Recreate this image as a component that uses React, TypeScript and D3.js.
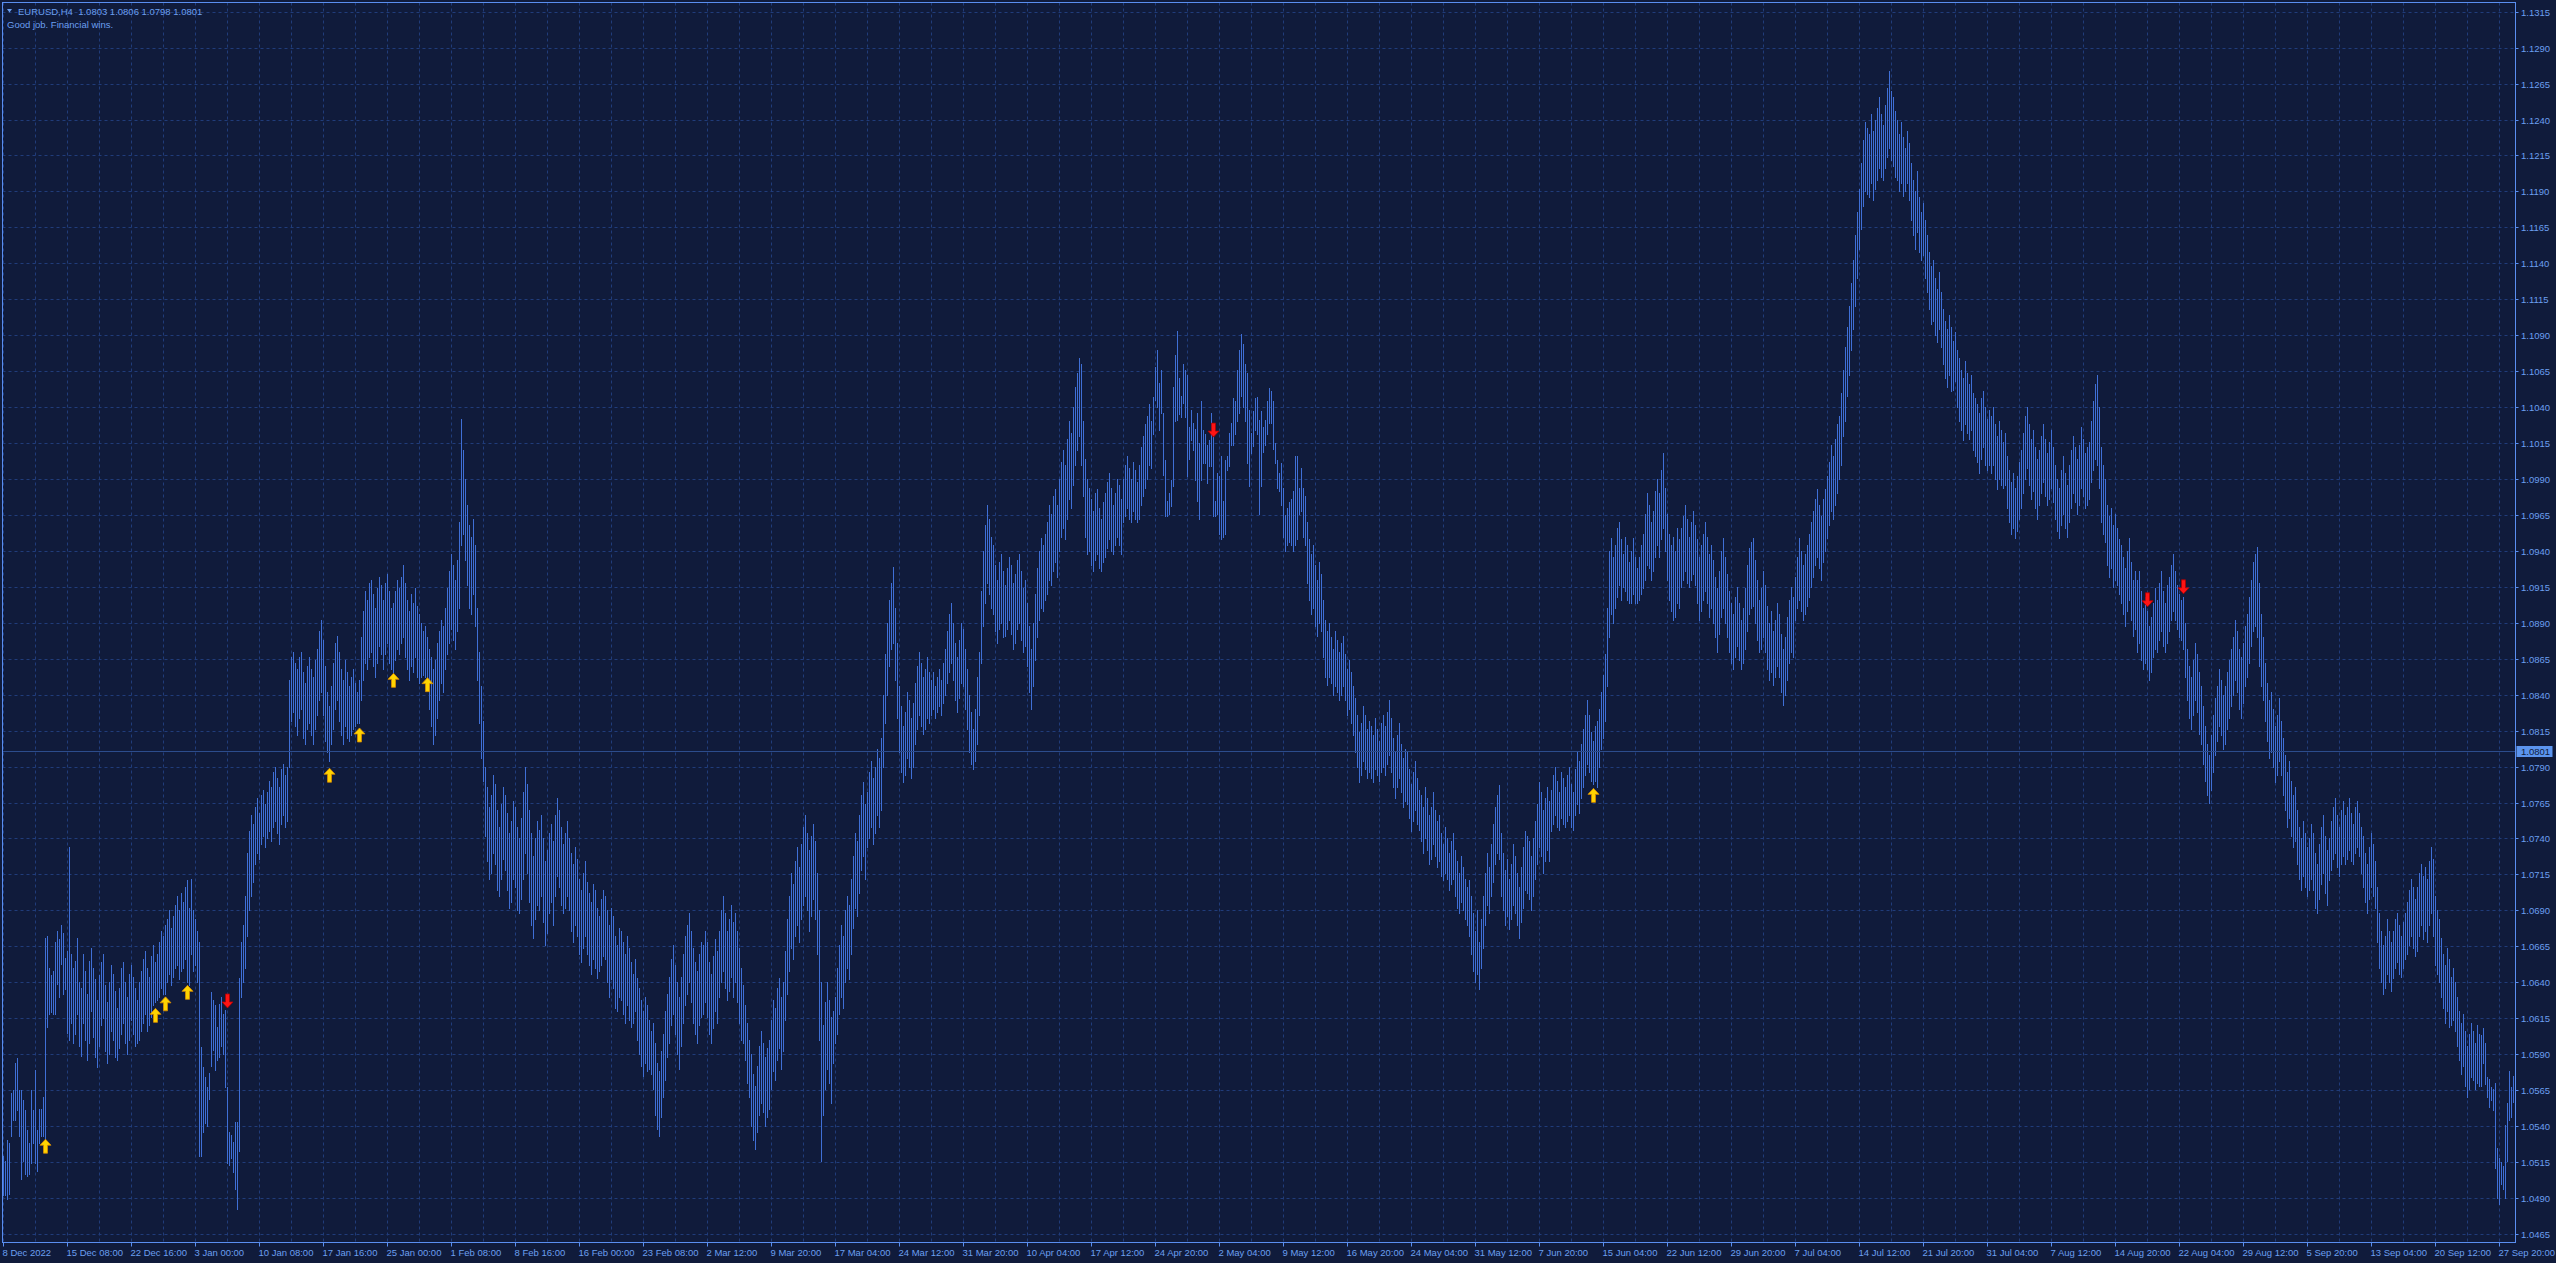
import React from "react";
import * as d3 from "d3";

const W = 2556;
const H = 1263;

// price ticks on the right axis
const priceTicks = [
  1.0465, 1.049, 1.0515, 1.054, 1.0565, 1.059, 1.0615, 1.064, 1.0665, 1.069, 1.0715, 1.074, 1.0765, 1.079,
  1.0815, 1.084, 1.0865, 1.089, 1.0915, 1.094, 1.0965, 1.099, 1.1015, 1.104, 1.1065, 1.109, 1.1115, 1.114,
  1.1165, 1.119, 1.1215, 1.124, 1.1265, 1.129, 1.1315,
];

const timeLabels = [
  "8 Dec 2022", "15 Dec 08:00", "22 Dec 16:00", "3 Jan 00:00", "10 Jan 08:00", "17 Jan 16:00", "25 Jan 00:00",
  "1 Feb 08:00", "8 Feb 16:00", "16 Feb 00:00", "23 Feb 08:00", "2 Mar 12:00", "9 Mar 20:00", "17 Mar 04:00",
  "24 Mar 12:00", "31 Mar 20:00", "10 Apr 04:00", "17 Apr 12:00", "24 Apr 20:00", "2 May 04:00", "9 May 12:00",
  "16 May 20:00", "24 May 04:00", "31 May 12:00", "7 Jun 20:00", "15 Jun 04:00", "22 Jun 12:00", "29 Jun 20:00",
  "7 Jul 04:00", "14 Jul 12:00", "21 Jul 20:00", "31 Jul 04:00", "7 Aug 12:00", "14 Aug 20:00", "22 Aug 04:00",
  "29 Aug 12:00", "5 Sep 20:00", "13 Sep 04:00", "20 Sep 12:00", "27 Sep 20:00",
];
const barsPerLabel = 32;
const barSlots = 1256;

// H4 bar highs, in pips above 1.0000
const barHigh = [
  519,516,530,528,563,565,584,587,565,565,558,551,537,528,565,551,579,537,552,552,560,671,
  672,650,645,648,668,676,670,680,674,657,662,734,660,650,
  655,671,640,636,660,648,632,655,664,
  650,642,628,645,654,660,638,626,640,652,646,634,622,636,650,654,640,630,646,652,644,636,628,640,
  648,656,662,650,644,658,666,654,660,
  668,676,672,680,684,690,678,686,694,700,690,702,696,706,711,692,
  712,690,684,676,668,595,581,574,567,577,633,628,624,609,625,630,618,621,567,536,534,529,543,543,643,668,680,700,730,745,756,750,
  762,768,758,770,774,764,772,780,776,786,790,782,776,788,792,784,790,
  850,866,870,862,858,866,870,856,848,860,
  866,858,852,864,872,884,892,878,860,842,832,846,862,
  876,881,870,858,850,864,856,846,852,858,848,842,850,
  880,898,912,906,918,920,910,900,914,922,916,906,918,924,912,900,904,
  912,920,914,922,930,918,906,898,910,904,914,902,896,890,884,888,880,
  872,866,858,864,876,884,892,888,
  900,914,926,938,930,920,934,960,1032,1010,
  990,972,958,950,962,944,
  900,870,846,822,
  790,776,762,770,784,778,760,748,764,776,770,
  758,744,752,766,762,748,740,754,
  772,790,778,760,744,728,740,752,
  746,756,740,724,732,744,750,738,
  756,768,760,748,736,744,752,740,
  730,722,734,726,712,704,716,724,
  710,702,696,708,704,692,686,698,704,
  700,690,680,692,686,672,666,678,
  676,668,660,672,664,654,646,656,
  643,636,628,620,630,624,614,606,
  612,598,584,578,592,604,620,632,
  644,656,666,652,640,630,644,660,
  672,680,688,676,664,654,648,660,668,
  666,676,668,654,646,658,670,662,
  676,690,700,688,676,684,694,682,
  688,676,664,650,638,624,612,600,
  590,576,568,582,596,606,598,588,594,
  600,614,628,622,636,643,630,640,
  662,684,700,716,708,724,734,720,
  736,748,756,744,732,742,750,738,
  716,690,640,610,626,640,628,616,620,
  630,650,666,680,672,690,700,694,
  712,728,744,738,756,770,779,764,
  772,786,794,782,790,802,796,810,
  840,868,890,906,918,929,900,876,
  846,832,818,828,842,836,824,834,
  848,860,870,862,852,858,866,856,
  850,856,846,852,858,850,862,872,
  884,896,904,890,876,866,878,890,
  886,872,858,840,828,816,830,852,
  870,912,940,958,972,962,950,944,
  930,920,932,938,926,916,928,936,
  930,918,924,934,938,926,914,920,
  904,888,872,890,910,928,940,949,
  944,952,960,972,966,978,983,972,
  990,1002,1010,1000,1018,1030,1022,1040,
  1054,1064,1074,1070,1030,1004,990,984,
  976,968,980,983,970,962,974,980,
  988,994,984,972,980,990,986,976,
  990,1000,1006,998,990,1002,996,988,
  1000,1012,1020,1028,
  1034,1042,
  1030,1047,1068,1080,1057,1066,1036,1003,975,980,
  989,1054,1076,1093,1060,1048,1070,1066,1062,1026,
  1038,1029,1025,1036,1015,1044,1024,1021,1014,1017,
  1036,1019,975,994,992,1006,975,1003,1006,1022,
  1029,1046,1044,1066,1080,1091,1084,1070,1064,1038,
  1022,1037,1046,1047,1031,1037,1026,1031,1044,1053,
  1051,1044,1015,1003,994,1001,984,965,970,974,
  976,982,1006,1006,984,998,984,978,
  960,948,938,944,930,920,932,924,
  906,892,884,890,880,872,884,878,
  870,876,881,868,858,864,856,846,
  838,826,814,820,832,826,816,822,
  818,812,824,816,808,820,826,818,
  828,836,824,810,800,812,820,806,
  796,802,800,788,778,786,794,782,774,
  770,762,776,768,756,762,772,760,
  752,756,744,736,748,740,730,738,
  744,732,724,716,728,720,712,706,
  711,700,688,676,690,668,684,700,
  716,730,720,736,750,762,770,777,
  744,730,718,726,712,722,736,728,
  716,706,720,734,745,742,738,728,740,
  752,764,779,772,760,768,776,766,
  774,784,790,780,772,786,782,776,
  784,790,778,772,788,800,794,806,
  816,826,836,826,814,808,818,822,
  830,842,854,868,900,940,949,936,
  944,956,960,948,938,950,944,932,
  940,949,936,928,936,944,952,966,980,
  972,960,968,982,990,980,996,1008,
  984,966,952,944,950,940,956,948,
  956,964,972,962,950,960,968,958,
  948,936,944,952,960,950,938,944,
  934,922,914,926,940,949,936,924,
  912,904,896,908,915,904,892,900,
  914,930,942,946,949,934,920,906,914,
  926,916,902,890,898,884,892,904,
  896,882,872,880,894,906,915,908,
  922,936,949,940,930,938,944,952,
  960,968,976,983,972,964,976,983,
  992,1002,1014,1006,1018,1028,1034,1050,
  1066,1082,1096,1110,1126,1142,1160,1176,
  1192,1210,1226,1238,1234,1230,1244,1232,1240,
  1248,1256,1244,1236,1250,1262,1274,1260,
  1256,1246,1240,1230,1238,1228,1220,1232,
  1224,1210,1198,1190,1204,1186,1176,1182,
  1170,1160,1148,1138,1142,1130,1122,1134,
  1120,1108,1100,1094,1104,1096,1086,1092,
  1080,1074,1066,1060,1072,1064,1056,1062,
  1050,1046,1042,1036,1046,1051,1040,1032,1038,
  1034,1040,1028,1020,1030,1024,1016,1022,
  1006,996,988,994,984,992,1002,1010,
  1022,1034,1040,1028,1018,1024,1012,1004,
  1010,1020,1028,1018,1008,1016,1024,1012,
  1000,990,984,996,1006,994,986,1000,
  1010,1020,1012,1004,1014,1026,1018,1008,1012,
  1016,1030,1044,1056,1062,1040,1012,1000,
  990,972,964,970,958,966,956,948,
  944,936,928,940,949,932,920,926,
  920,926,912,900,908,898,888,894,
  904,914,906,918,926,912,904,916,
  922,930,938,926,916,910,906,908,
  890,872,860,852,864,876,868,856,
  846,832,818,806,798,812,826,838,
  846,858,850,840,846,856,864,872,
  880,892,884,872,866,876,888,896,
  908,920,932,938,943,918,896,880,
  862,848,836,842,830,818,826,838,
  822,810,798,786,794,780,770,776,
  760,748,740,752,744,734,740,750,
  744,730,722,736,748,756,742,732,
  740,752,762,768,756,748,760,766,
  756,762,768,758,750,762,766,758,
  748,742,730,722,734,744,736,724,
  706,688,676,666,672,684,676,668,
  676,684,688,680,672,682,688,696,
  704,712,706,698,706,716,722,714,
  720,712,724,734,726,700,690,684,
  671,660,652,664,656,644,650,640,
  630,620,612,618,606,596,604,612,
  606,598,610,604,
  603,608,598,574,573,567,566,570,525,518,515,512,541,556,578,567,575,
];

// H4 bar lows, in pips above 1.0000
const barLow = [
  492,492,489,493,533,544,544,551,533,503,516,507,505,507,514,528,514,509,528,533,533,528,
  609,618,619,618,618,639,630,653,632,635,605,600,612,598,
  604,618,596,589,612,600,586,598,620,
  602,588,581,596,610,615,592,584,590,606,600,588,586,594,604,612,598,590,600,614,604,596,598,600,
  606,612,618,606,610,616,624,626,628,
  630,636,632,632,640,646,638,644,650,652,642,648,650,656,640,638,
  660,648,652,640,519,519,536,542,540,559,582,593,579,586,588,596,590,567,514,513,518,508,496,482,523,630,640,650,672,690,700,710,
  722,730,726,736,742,734,740,745,738,748,752,744,736,750,756,748,752,
  790,822,828,818,812,824,830,810,806,816,
  820,812,806,816,826,836,842,826,808,800,794,806,816,
  830,836,822,812,806,818,810,808,812,816,818,820,820,
  836,850,862,858,866,870,860,852,862,874,868,858,868,876,862,858,856,
  864,872,868,876,880,866,858,850,860,856,866,852,848,852,854,852,852,
  830,818,806,812,824,836,848,842,
  858,868,876,886,878,872,884,900,944,952,
  934,916,900,896,910,888,
  850,820,796,780,
  742,724,712,716,730,722,704,700,712,726,718,
  704,692,696,712,706,690,688,698,
  712,730,716,696,680,671,684,694,
  690,700,682,666,674,688,696,680,
  700,714,706,694,688,692,700,690,
  676,668,680,672,660,654,664,672,
  660,652,646,656,650,643,648,652,658,
  656,640,630,642,636,622,620,630,
  628,618,612,624,614,609,612,620,
  600,590,582,575,584,578,580,576,
  566,548,538,533,546,560,572,588,
  598,610,618,604,590,580,596,612,
  624,632,640,626,612,604,598,610,616,
  618,626,616,604,598,608,620,612,
  630,640,648,636,628,634,644,630,
  640,626,612,600,598,586,570,560,
  540,530,524,536,548,556,550,540,546,
  552,566,578,572,586,594,580,592,
  614,632,648,664,656,672,680,668,
  684,694,700,690,676,686,698,684,
  660,600,516,548,566,580,570,556,584,
  598,604,618,630,622,640,650,642,
  660,678,692,686,702,718,728,712,
  734,740,748,736,744,756,748,760,
  790,820,840,860,872,876,850,824,
  800,786,779,784,796,790,782,790,
  806,816,826,818,813,816,824,820,
  826,830,824,828,832,826,834,840,
  848,856,862,850,836,828,838,848,
  846,830,816,800,792,788,794,806,
  826,862,888,904,918,910,900,896,
  884,876,886,890,880,881,886,892,
  882,872,876,886,890,878,870,874,
  860,842,830,846,864,880,892,900,
  898,906,910,920,916,926,932,922,
  940,950,956,948,962,976,970,986,
  1000,1010,1020,1000,978,950,938,940,
  930,926,934,938,928,926,932,936,
  942,948,940,938,944,950,944,938,
  960,964,970,962,960,968,962,960,
  962,972,978,984,
  990,1000,
  998,1021,1045,1040,1024,1036,993,964,964,966,
  971,985,1030,1031,1035,1033,1043,1033,992,1004,
  1017,1010,989,975,962,989,1001,1001,987,999,
  999,964,964,966,952,948,950,952,996,999,
  1014,1014,1021,1030,1036,1048,1040,1030,1001,985,
  1008,1013,1024,1021,966,985,1009,1014,1021,1029,
  1029,1011,1001,984,982,972,950,940,944,946,
  944,940,944,948,966,968,950,944,
  918,906,896,900,888,881,890,884,
  866,852,847,852,848,840,846,842,
  836,840,846,836,826,830,820,812,
  800,790,779,784,794,788,782,786,
  782,779,788,784,780,786,790,784,
  792,798,786,776,768,776,782,772,
  762,766,764,754,745,752,760,750,746,
  738,730,740,732,722,726,736,728,
  720,724,714,711,716,712,704,708,
  712,700,692,688,696,690,684,680,
  672,660,648,640,646,635,650,664,
  680,694,688,700,710,722,730,726,
  700,690,680,686,677,684,694,688,
  680,671,682,692,704,702,698,690,700,
  712,722,734,728,716,724,732,724,
  745,750,756,748,746,754,750,748,
  752,756,748,746,756,764,758,768,
  776,784,792,786,780,778,780,776,
  790,802,810,822,846,880,896,890,
  900,908,916,906,915,912,906,904,
  904,910,904,904,906,910,914,920,930,
  928,920,926,936,944,936,948,956,
  940,920,906,898,892,894,904,900,
  915,920,926,918,915,920,924,916,
  904,892,898,906,912,904,894,900,
  890,880,870,882,894,900,890,880,
  870,862,858,866,874,864,858,862,
  872,884,896,900,902,890,878,870,872,
  880,870,858,850,856,847,852,860,
  852,842,833,840,850,862,870,866,
  892,900,906,898,892,896,902,908,
  915,922,930,936,928,920,932,940,
  949,958,968,962,972,980,990,1000,
  1020,1030,1048,1062,1080,1094,1110,1130,
  1150,1164,1180,1190,1188,1186,1196,1184,1192,
  1198,1206,1200,1198,1206,1214,1220,1212,
  1208,1200,1198,1190,1196,1187,1190,1196,
  1184,1170,1160,1150,1162,1148,1142,1146,
  1130,1120,1108,1098,1100,1090,1085,1094,
  1082,1070,1060,1054,1062,1051,1052,1058,
  1040,1030,1024,1017,1028,1022,1018,1024,
  1010,1006,1002,994,1004,1012,1000,996,1000,
  994,1000,990,983,990,986,984,986,
  970,960,952,956,949,954,962,970,
  980,990,998,986,976,982,970,962,
  972,980,988,978,972,976,984,974,
  962,954,949,958,966,956,950,960,
  970,980,974,966,972,984,978,970,972,
  976,988,996,1004,1000,984,960,952,
  946,930,922,928,915,920,916,910,
  904,896,888,898,906,892,881,886,
  870,876,864,858,862,858,850,856,
  866,872,870,878,884,874,870,876,
  884,892,898,892,886,880,878,872,
  852,836,824,816,826,836,828,813,
  806,792,780,770,765,774,786,798,
  808,818,812,802,806,816,824,832,
  840,850,842,830,824,834,846,852,
  862,874,884,888,880,860,846,836,
  822,808,796,800,790,779,784,794,
  784,770,760,748,754,742,734,738,
  722,712,704,714,706,700,704,712,
  704,692,688,698,708,716,702,694,
  711,718,726,730,720,714,722,728,
  722,726,732,724,722,730,734,728,
  716,706,696,688,698,706,700,692,
  668,650,640,632,636,646,640,634,
  643,650,654,646,644,650,656,660,
  666,672,664,658,662,672,680,670,
  676,668,680,688,672,652,646,640,
  630,622,612,620,609,610,614,606,
  596,586,576,582,568,560,566,574,
  572,566,570,568,
  568,584,569,560,553,558,551,511,490,486,500,496,490,516,544,546,557,
];

const upArrowBars = [21, 76, 81, 92, 163, 178, 195, 212, 795];
const upArrowPrices = [1.0526, 1.0617, 1.0625, 1.0633, 1.0784, 1.0812, 1.085, 1.0847, 1.077];
const downArrowBars = [112, 605, 1072, 1090];
const downArrowPrices = [1.0627, 1.1024, 1.0906, 1.0915];

const headerSymbol = "EURUSD,H4";
const headerPrices = ["1.0803", "1.0806", "1.0798", "1.0801"];
const headerNote = "Good job. Financial wins.";
const lastPrice = 1.0801;

const BG = "#101b3b";
const FRAME = "#5a8ef0";
const GRID = "#203c7a";
const BAR = "#3f6fd6";
const TEXT = "#6b9ff0";
const FONT = "'Liberation Sans', Arial, sans-serif";

const left = 2.5;
const right = 2515.5;
const top = 2.5;
const bottom = 1242.5;

export default function App() {
  const x = d3.scaleLinear().domain([0, barSlots - 1]).range([3.5, 2513.5]);
  const y = d3.scaleLinear().domain([1.0465, 1.1315]).range([1233.9, 11.7]);
  const pip = (v: number) => 1 + v / 10000;
  const py = (p: number) => Math.round(y(p)) + 0.5;

  const gridBars = d3.range(0, barSlots, barsPerLabel / 2);
  const n = Math.min(barHigh.length, barLow.length);
  let barsPath = "";
  for (let i = 0; i < n; i++) {
    const y1 = Math.round(y(pip(barHigh[i])));
    const y2 = Math.round(y(pip(barLow[i])));
    barsPath += `M${x(i)},${y1}V${y2 + 1}`;
  }

  const upPath = (cx: number, cy: number) => {
    const t = cy - 7;
    return `M${cx},${t} L${cx + 5.5},${t + 6} L${cx + 2},${t + 6} L${cx + 2},${t + 14} L${cx - 2},${t + 14} L${cx - 2},${t + 6} L${cx - 5.5},${t + 6} Z`;
  };
  const downPath = (cx: number, cy: number) => {
    const b = cy + 7;
    return `M${cx},${b} L${cx + 5.5},${b - 6} L${cx + 2},${b - 6} L${cx + 2},${b - 14} L${cx - 2},${b - 14} L${cx - 2},${b - 6} L${cx - 5.5},${b - 6} Z`;
  };

  return (
    <svg width={W} height={H} style={{ display: "block", position: "absolute", left: 0, top: 0 }}>
      <rect x={0} y={0} width={W} height={H} fill={BG} />
      {priceTicks.map((p) => (
        <line key={"hg" + p} x1={left} x2={right} y1={py(p)} y2={py(p)} stroke={GRID} strokeWidth={1} strokeDasharray="3,3" />
      ))}
      {gridBars.map((b) => (
        <line key={"vg" + b} x1={x(b)} x2={x(b)} y1={top} y2={bottom} stroke={GRID} strokeWidth={1} strokeDasharray="3,3" />
      ))}
      <path d={barsPath} stroke={BAR} strokeWidth={1} fill="none" shapeRendering="crispEdges" />
      <line x1={left} x2={right} y1={py(lastPrice)} y2={py(lastPrice)} stroke="#2c4c8c" strokeWidth={1} />
      {upArrowBars.map((b, i) => (
        <path key={"ua" + i} d={upPath(x(b), y(upArrowPrices[i]))} fill="#ffd400" stroke="#d98c00" strokeWidth={0.8} />
      ))}
      {downArrowBars.map((b, i) => (
        <path key={"da" + i} d={downPath(x(b), y(downArrowPrices[i]))} fill="#ff1414" stroke="#b00000" strokeWidth={0.8} />
      ))}
      <rect x={left} y={top} width={right - left} height={bottom - top} fill="none" stroke={FRAME} strokeWidth={1} />
      {priceTicks.map((p) => (
        <g key={"yt" + p}>
          <line x1={right} x2={right + 3} y1={py(p)} y2={py(p)} stroke={FRAME} />
          <text x={2521} y={py(p)} dy="0.35em" fill={TEXT} fontFamily={FONT} fontSize={9.5}>
            {d3.format(".4f")(p)}
          </text>
        </g>
      ))}
      <rect x={2516.5} y={py(lastPrice) - 5.5} width={36} height={11} fill="#5b94ee" />
      <text x={2521} y={py(lastPrice)} dy="0.35em" fill="#0f1a3a" fontFamily={FONT} fontSize={9.5}>
        {d3.format(".4f")(lastPrice)}
      </text>
      {timeLabels.map((t, k) => {
        const xx = Math.round(x(k * barsPerLabel)) - 0.5;
        return (
          <g key={"xt" + k}>
            <line x1={xx} x2={xx} y1={bottom} y2={bottom + 4} stroke={FRAME} />
            <text x={xx - 1} y={1256} fill={TEXT} fontFamily={FONT} fontSize={9.5}>
              {t}
            </text>
          </g>
        );
      })}
      <path d="M7,9 L12,9 L9.5,12.5 Z" fill={TEXT} />
      <text x={18} y={14.5} fill={TEXT} fontFamily={FONT} fontSize={9.5} xmlSpace="preserve">
        {headerSymbol + "  " + headerPrices.join(" ")}
      </text>
      <text x={7} y={27.5} fill={TEXT} fontFamily={FONT} fontSize={9.5}>
        {headerNote}
      </text>
    </svg>
  );
}
